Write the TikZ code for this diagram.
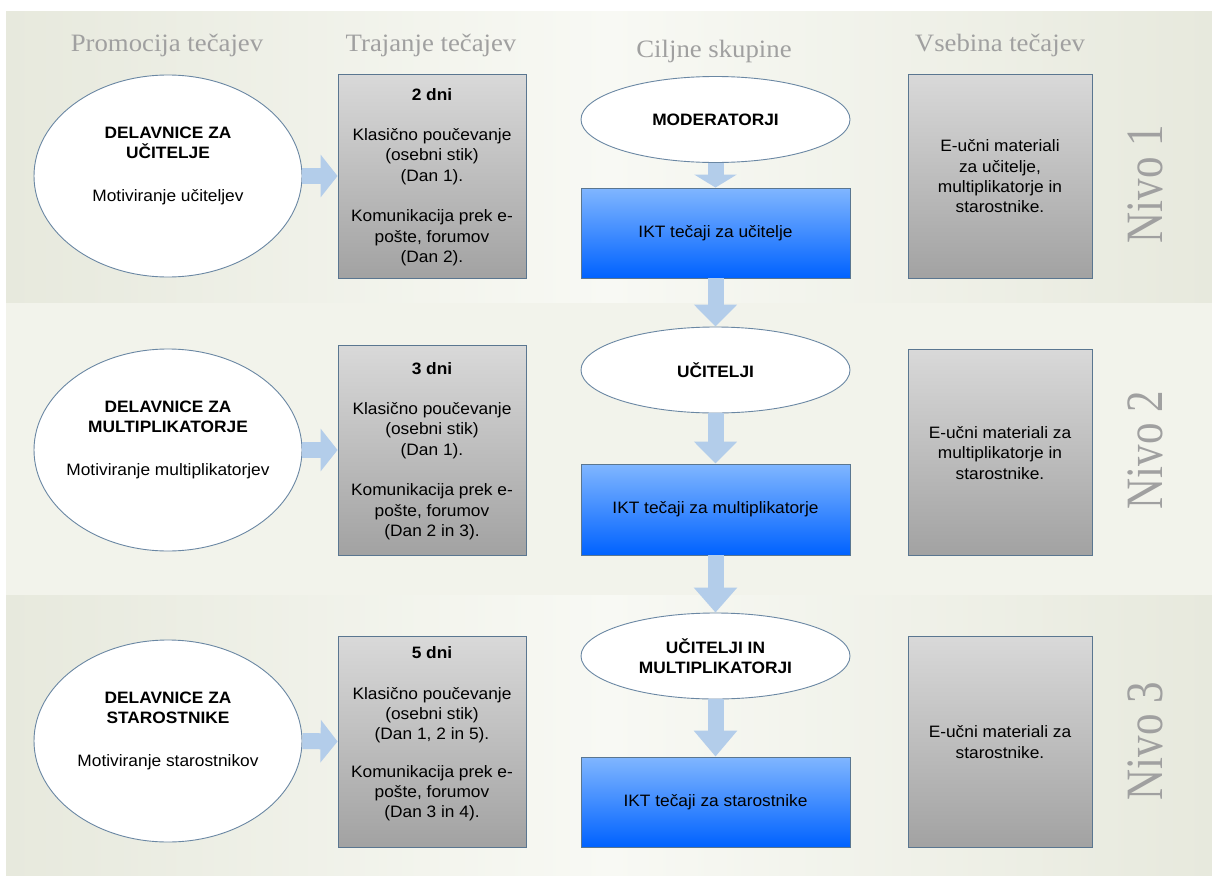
\documentclass[tikz,border=0pt]{standalone}
\usepackage{fontspec}
\setmainfont{Liberation Sans}[FakeStretch=1.05]
\newfontfamily\headfont{Liberation Serif}[FakeStretch=1.07]
\newfontfamily\levelfont{Liberation Serif}
\usetikzlibrary{arrows.meta,shapes.geometric}

\definecolor{bandDark}{HTML}{E7E9DD}
\definecolor{bandLight}{HTML}{F8F9F4}
\definecolor{bandMid}{HTML}{F2F3EB}
\definecolor{headGrey}{HTML}{A0A0A0}
\definecolor{levelGrey}{HTML}{A0A0A0}
\definecolor{boxEdge}{HTML}{5A7690}
\definecolor{ovalEdge}{HTML}{6A87A3}
\definecolor{greyTop}{HTML}{D9D9D9}
\definecolor{greyBot}{HTML}{A2A2A2}
\definecolor{blueTop}{HTML}{80B6FF}
\definecolor{blueBot}{HTML}{0062FF}
\definecolor{flowBlue}{HTML}{B3CDEA}

\begin{document}
\begin{tikzpicture}[x=1pt,y=-1pt,
  bodytext/.style={align=center, inner sep=0pt,
    font=\fontsize{16.5}{20.3}\selectfont},
  header/.style={anchor=base, inner sep=0pt, text=headGrey,
    font=\headfont\fontsize{25}{30}\selectfont},
  level/.style={rotate=90, yscale=1.22, inner sep=0pt, text=levelGrey,
    font=\levelfont\fontsize{43}{50}\selectfont},
  workshop/.style={ellipse, draw=ovalEdge, line width=0.9pt, fill=white,
    minimum width=268pt, minimum height=202pt, inner sep=0pt},
  group/.style={ellipse, draw=ovalEdge, line width=0.9pt, fill=white,
    minimum width=269pt, minimum height=86pt, inner sep=0pt,
    align=center, font=\fontsize{16.5}{20.3}\selectfont\bfseries},
  durbox/.style={rectangle, draw=boxEdge, line width=0.9pt,
    top color=greyTop, bottom color=greyBot,
    minimum width=188pt, inner sep=0pt},
  contbox/.style={rectangle, draw=boxEdge, line width=0.9pt,
    top color=greyTop, bottom color=greyBot,
    minimum width=184pt, inner sep=0pt},
  coursebox/.style={rectangle, draw=boxEdge, line width=0.9pt,
    top color=blueTop, bottom color=blueBot,
    minimum width=269pt, minimum height=90pt, inner sep=0pt,
    align=center, font=\fontsize{16.5}{20.3}\selectfont},
  flow/.style={draw=flowBlue, line width=16pt,
    -{Triangle[width=42pt,length=#1,color=flowBlue]}},
  flow/.default=22pt
]
\useasboundingbox (0,0) rectangle (1212,875);
\fill[white] (0,0) rectangle (1212,875);

% level bands
\shade[left color=bandDark, right color=bandDark, middle color=bandLight]
  (6,12) rectangle (1212,303);
\fill[bandMid] (6,303) rectangle (1212,595);
\shade[left color=bandDark, right color=bandDark, middle color=bandLight]
  (6,595) rectangle (1212,875);

% column headers
\node[header] (h1) at (167,52) {Promocija tečajev};
\node[header] (h2) at (431,52) {Trajanje tečajev};
\node[header] (h3) at (714,57) {Ciljne skupine};
\node[header] (h4) at (1000,52) {Vsebina tečajev};

% level labels
\node[level] (n1) at (1145,184) {Nivo 1};
\node[level] (n2) at (1145,450) {Nivo 2};
\node[level] (n3) at (1145,741) {Nivo 3};

% ---- level 1
\node[workshop] (p1) at (168,176) {};
\node[bodytext] (p1t) at (168,166) {\textbf{DELAVNICE ZA}\\\textbf{UČITELJE}\\[23pt]Motiviranje učiteljev};
\node[durbox, minimum height=204pt] (d1) at (432,176) {};
\node[bodytext] (d1t) at (432,177) {\textbf{2 dni}\\[20.3pt]Klasično poučevanje\\(osebni stik)\\(Dan 1).\\[20.3pt]Komunikacija prek e-\\pošte, forumov\\(Dan 2).};
\node[group] (m1) at (715.5,119.5) {MODERATORJI};
\node[coursebox] (b1) at (715.5,233) {IKT tečaji za učitelje};
\node[contbox, minimum height=204pt] (c1) at (1000,176) {};
\node[bodytext] (c1t) at (1000,176.5) {E-učni materiali\\za učitelje,\\multiplikatorje in\\starostnike.};

% ---- level 2
\node[workshop] (p2) at (168,450) {};
\node[bodytext] (p2t) at (168,440) {\textbf{DELAVNICE ZA}\\\textbf{MULTIPLIKATORJE}\\[23pt]Motiviranje multiplikatorjev};
\node[durbox, minimum height=210pt] (d2) at (432,450) {};
\node[bodytext] (d2t) at (432,451) {\textbf{3 dni}\\[20.3pt]Klasično poučevanje\\(osebni stik)\\(Dan 1).\\[20.3pt]Komunikacija prek e-\\pošte, forumov\\(Dan 2 in 3).};
\node[group] (m2) at (715.5,370) {UČITELJI};
\node[coursebox, minimum height=91pt] (b2) at (715.5,509.5) {IKT tečaji za multiplikatorje};
\node[contbox, minimum height=206pt] (c2) at (1000,452) {};
\node[bodytext] (c2t) at (1000,453) {E-učni materiali za\\multiplikatorje in\\starostnike.};

% ---- level 3
\node[workshop] (p3) at (168,741) {};
\node[bodytext] (p3t) at (168,731) {\textbf{DELAVNICE ZA}\\\textbf{STAROSTNIKE}\\[23pt]Motiviranje starostnikov};
\node[durbox, minimum height=211pt] (d3) at (432,741.5) {};
\node[bodytext] (d3t) at (432,734) {\textbf{5 dni}\\[20.3pt]Klasično poučevanje\\(osebni stik)\\(Dan 1, 2 in 5).\\[17pt]Komunikacija prek e-\\pošte, forumov\\(Dan 3 in 4).};
\node[group] (m3) at (715.5,656) {UČITELJI IN\\MULTIPLIKATORJI};
\node[coursebox] (b3) at (715.5,802) {IKT tečaji za starostnike};
\node[contbox, minimum height=211pt] (c3) at (1000,741.5) {};
\node[bodytext] (c3t) at (1000,742) {E-učni materiali za\\starostnike.};

% flow arrows
\draw[flow=17pt] (p1.east) -- (d1.west);
\draw[flow=17pt] (p2.east) -- (d2.west);
\draw[flow=17pt] (p3.east) -- (d3.west);
\draw[flow=13pt] (m1.south) -- (b1.north);
\draw[flow] (b1.south) -- (m2.north);
\draw[flow] (m2.south) -- (b2.north);
\draw[flow=25pt] (b2.south) -- (m3.north);
\draw[flow=26pt] (m3.south) -- (b3.north);
\end{tikzpicture}
\end{document}
